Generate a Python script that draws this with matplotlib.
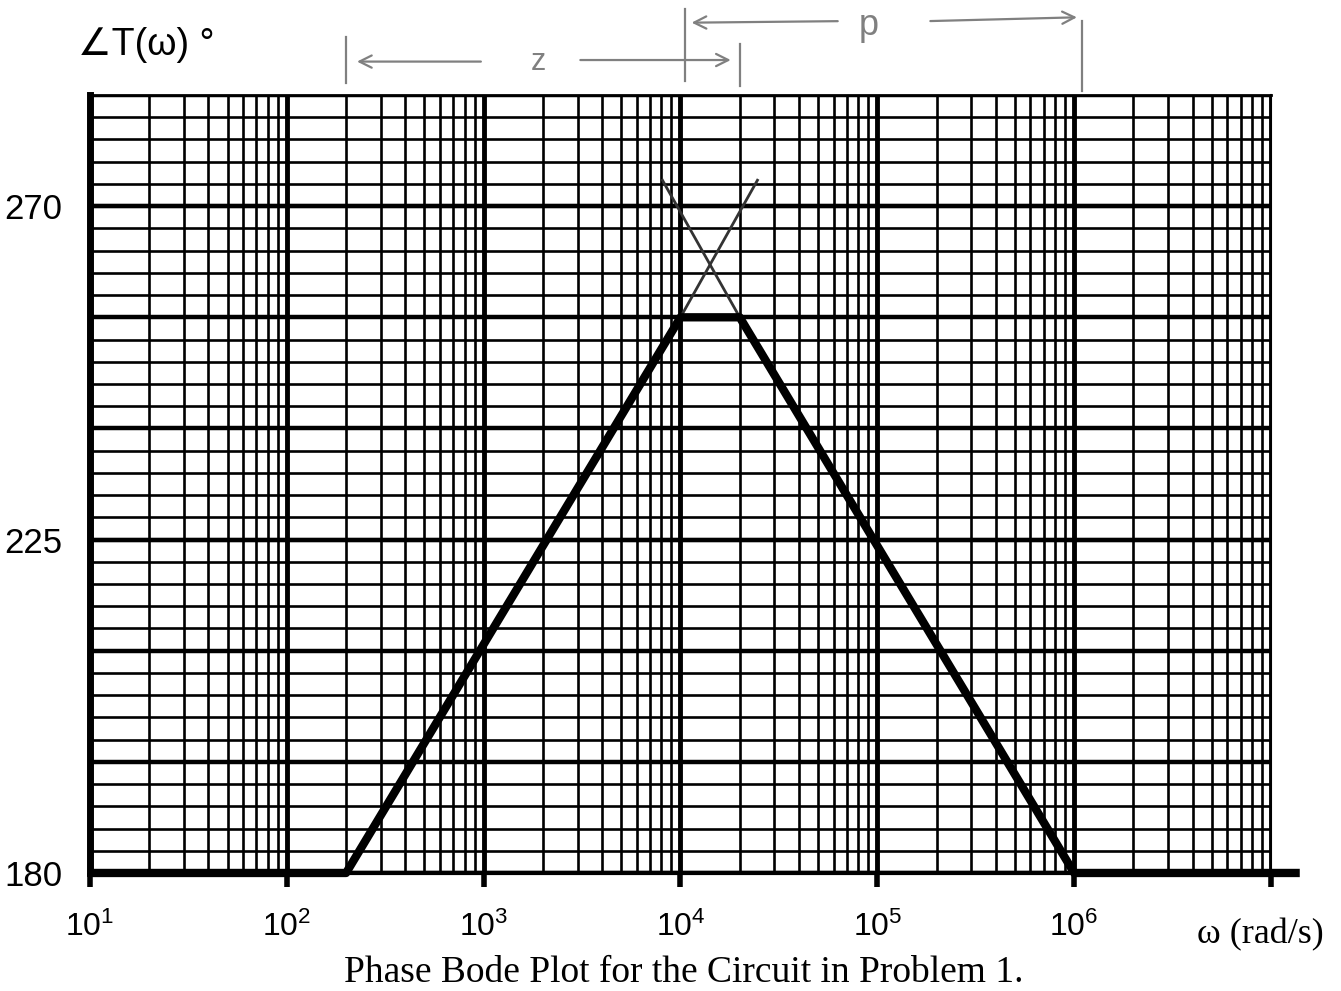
import matplotlib
matplotlib.use("Agg")
import matplotlib.pyplot as plt
import matplotlib.ticker as ticker
import numpy as np

plt.rcParams["font.family"] = ["Liberation Sans", "DejaVu Sans"]
plt.rcParams["mathtext.fontset"] = "custom"
plt.rcParams["mathtext.rm"] = "Liberation Sans"
plt.rcParams["mathtext.it"] = "Liberation Sans"

# straight-line phase approximation
w_curve = [10, 200, 1e4, 2e4, 1e6, 1.4e7]
phase_curve = [180, 180, 255, 255, 180, 180]

# extended asymptotes (thin, crossing above the plateau)
w_rise = [1e4, 2.46e4]
phase_rise = [255, 273.5]
w_fall = [2e4, 8.1e3]
phase_fall = [255, 273.5]

y_ticks = [180, 225, 270]

# handwritten brackets
z_span = [200, 2e4]
p_span = [1.05e4, 1.1e6]

fig = plt.figure(figsize=(13.41, 9.91), dpi=100)
ax = fig.add_axes([0.0671, 0.1191, 0.8807, 0.785])

ax.set_xscale("log")
ax.set_xlim(10, 1e7)
ax.set_ylim(180, 285)

# grid paper
ax.xaxis.set_major_locator(ticker.FixedLocator([10.0 ** k for k in range(1, 8)]))
ax.xaxis.set_minor_locator(ticker.LogLocator(base=10, subs=np.arange(2, 10), numticks=20))
ax.yaxis.set_major_locator(ticker.MultipleLocator(15))
ax.yaxis.set_minor_locator(ticker.MultipleLocator(3))
ax.grid(which="major", axis="x", color="black", linewidth=3.5)
ax.grid(which="minor", axis="x", color="black", linewidth=1.9)
ax.grid(which="major", axis="y", color="black", linewidth=3.0)
ax.grid(which="minor", axis="y", color="black", linewidth=1.9)
ax.set_axisbelow(True)

ax.xaxis.set_major_formatter(ticker.FuncFormatter(
    lambda v, p: f"$10^{{{int(round(np.log10(v)))}}}$" if np.log10(v) < 6.5 else ""))
ax.xaxis.set_minor_formatter(ticker.NullFormatter())
ax.tick_params(axis="x", which="major", length=10, width=4, pad=18, labelsize=23)
ax.tick_params(axis="x", which="minor", length=0)
ax.set_yticks(y_ticks)
ax.yaxis.set_major_formatter(ticker.FuncFormatter(
    lambda v, p: f"{int(v)}" if v in y_ticks else ""))
ax.yaxis.set_minor_formatter(ticker.NullFormatter())
ax.tick_params(axis="y", which="major", length=0, pad=20, labelsize=25)
ax.tick_params(axis="y", which="minor", length=0)
# keep the 15-degree heavy lines
for yv in np.arange(180, 286, 15):
    ax.axhline(yv, color="black", linewidth=3.2, zorder=0.5)

ax.spines["left"].set_linewidth(5)
ax.spines["bottom"].set_linewidth(3)
ax.spines["top"].set_linewidth(2)
ax.spines["right"].set_linewidth(1.5)

ax.plot(w_curve, phase_curve, color="black", linewidth=6, clip_on=False,
        solid_capstyle="butt", zorder=5)
ax.plot(w_rise, phase_rise, color="#333333", linewidth=2, zorder=4)
ax.plot(w_fall, phase_fall, color="#333333", linewidth=2, zorder=4)

# labels
fig.text(0.058, 0.955, "∠T(ω) °", fontsize=27, ha="left", va="center")
fig.text(0.94, 0.057, "ω (rad/s)", fontsize=26, ha="center", va="center",
         family=["Liberation Serif", "DejaVu Serif"])
fig.text(0.51, 0.018, "Phase Bode Plot for the Circuit in Problem 1.", fontsize=27,
         ha="center", va="center", family=["Liberation Serif", "DejaVu Serif"])

# handwritten z / p brackets
pen = dict(color="#808080", linewidth=1.6)
trans = ax.get_xaxis_transform()
ax.plot([z_span[0], z_span[0]], [1.015, 1.075], transform=trans, clip_on=False, **pen)
ax.plot([z_span[1], z_span[1]], [1.012, 1.065], transform=trans, clip_on=False, **pen)
ax.plot([p_span[0], p_span[0]], [1.018, 1.11], transform=trans, clip_on=False, **pen)
ax.plot([p_span[1], p_span[1]], [1.005, 1.095], transform=trans, clip_on=False, **pen)
arrow = dict(arrowstyle="->", color="#808080", lw=1.6, mutation_scale=22)
ax.annotate("", xy=(z_span[0] * 1.1, 1.043), xytext=(1000, 1.043),
            xycoords=trans, textcoords=trans, arrowprops=arrow)
ax.annotate("", xy=(z_span[1] * 0.93, 1.045), xytext=(3000, 1.045),
            xycoords=trans, textcoords=trans, arrowprops=arrow)
ax.text(1900, 1.043, "z", transform=trans,
        fontsize=22, color="#808080", ha="center", va="center")
ax.annotate("", xy=(p_span[0] * 1.05, 1.093), xytext=(6.5e4, 1.095),
            xycoords=trans, textcoords=trans, arrowprops=arrow)
ax.annotate("", xy=(p_span[1] * 0.97, 1.1), xytext=(1.8e5, 1.095),
            xycoords=trans, textcoords=trans, arrowprops=arrow)
ax.text(9e4, 1.09, "p", transform=trans, fontsize=26, color="#808080",
        ha="center", va="center")

fig.savefig("out.png", dpi=100)
